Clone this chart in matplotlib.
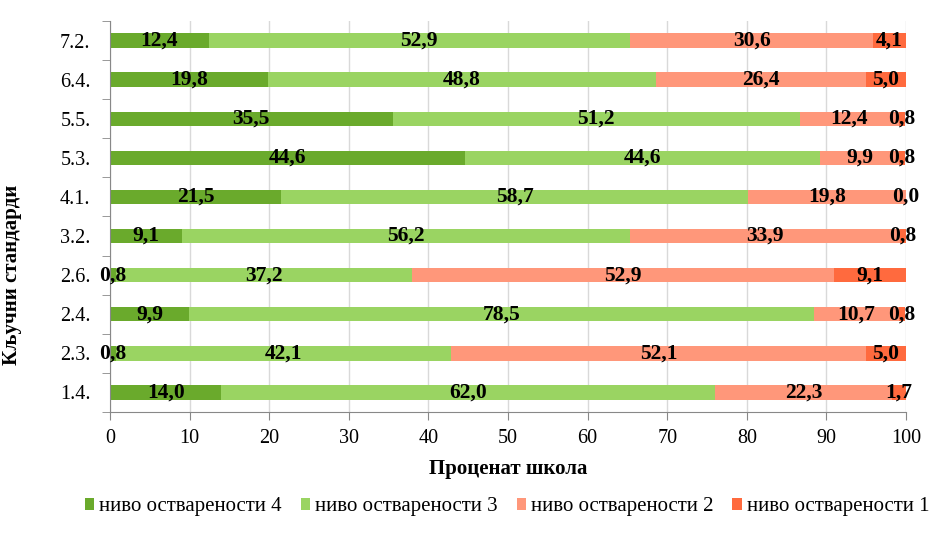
import matplotlib
matplotlib.use("Agg")
import matplotlib.pyplot as plt
from matplotlib.ticker import MultipleLocator, FixedLocator
import numpy as np

plt.rcParams['font.family'] = ['Liberation Serif', 'DejaVu Serif']

categories = ["1.4.", "2.3.", "2.4.", "2.6.", "3.2.", "4.1.", "5.3.", "5.5.", "6.4.", "7.2."]
level4 = [14.0, 0.8, 9.9, 0.8, 9.1, 21.5, 44.6, 35.5, 19.8, 12.4]
level3 = [62.0, 42.1, 78.5, 37.2, 56.2, 58.7, 44.6, 51.2, 48.8, 52.9]
level2 = [22.3, 52.1, 10.7, 52.9, 33.9, 19.8, 9.9, 12.4, 26.4, 30.6]
level1 = [1.7, 5.0, 0.8, 9.1, 0.8, 0.0, 0.8, 0.8, 5.0, 4.1]
series_names = ["ниво остварености 4", "ниво остварености 3", "ниво остварености 2", "ниво остварености 1"]
colors = ["#6aaa2c", "#9ad462", "#ff977a", "#ff6a3e"]

W, H = 945, 541
fig = plt.figure(figsize=(W / 100, H / 100), dpi=100)
ax = fig.add_axes([110 / W, 1 - 412 / H, 796 / W, 391 / H])

y = np.arange(len(categories))
left = np.zeros(len(categories))
for vals, name, col in zip([level4, level3, level2, level1], series_names, colors):
    vals = np.array(vals)
    ax.barh(y, vals, left=left, height=0.37, color=col, label=name, zorder=2)
    for yi, l, v in zip(y, left, vals):
        ax.text(l + v / 2, yi, f"{v:.1f}".replace('.', ','), ha='center', va='center',
                fontsize=15.5, fontweight='bold', color='black', zorder=3)
    left += vals

ax.set_xlim(0, 100)
ax.set_ylim(-0.5, len(categories) - 0.5)
ax.xaxis.set_major_locator(MultipleLocator(10))
ax.set_yticks(y)
ax.set_yticklabels(categories)
ax.yaxis.set_minor_locator(FixedLocator(np.arange(-0.5, len(categories), 1)))
ax.tick_params(axis='y', which='major', length=0, labelsize=14.5, pad=14)
ax.tick_params(axis='y', which='minor', length=6, color='#888888', direction='out')
ax.tick_params(axis='x', which='major', length=6, color='#888888', labelsize=14.5, pad=6)
ax.grid(axis='x', color='#d9d9d9', linewidth=1, zorder=0)
for s in ['top', 'right']:
    ax.spines[s].set_visible(False)
for s in ['left', 'bottom']:
    ax.spines[s].set_color('#888888')

ax.set_xlabel("Проценат школа", fontsize=15, fontweight='bold', labelpad=8)
ax.set_ylabel("Кључни стандарди", fontsize=15, fontweight='bold')
ax.yaxis.set_label_coords(-0.1106, 0.35)

fig.legend(*ax.get_legend_handles_labels(), loc='center', bbox_to_anchor=(507 / W, 1 - 507 / H),
           ncol=4, frameon=False, fontsize=15, handlelength=0.45, handleheight=0.48,
           handletextpad=0.25, columnspacing=0.9, borderpad=0, borderaxespad=0)

fig.savefig("out.png", dpi=100)
